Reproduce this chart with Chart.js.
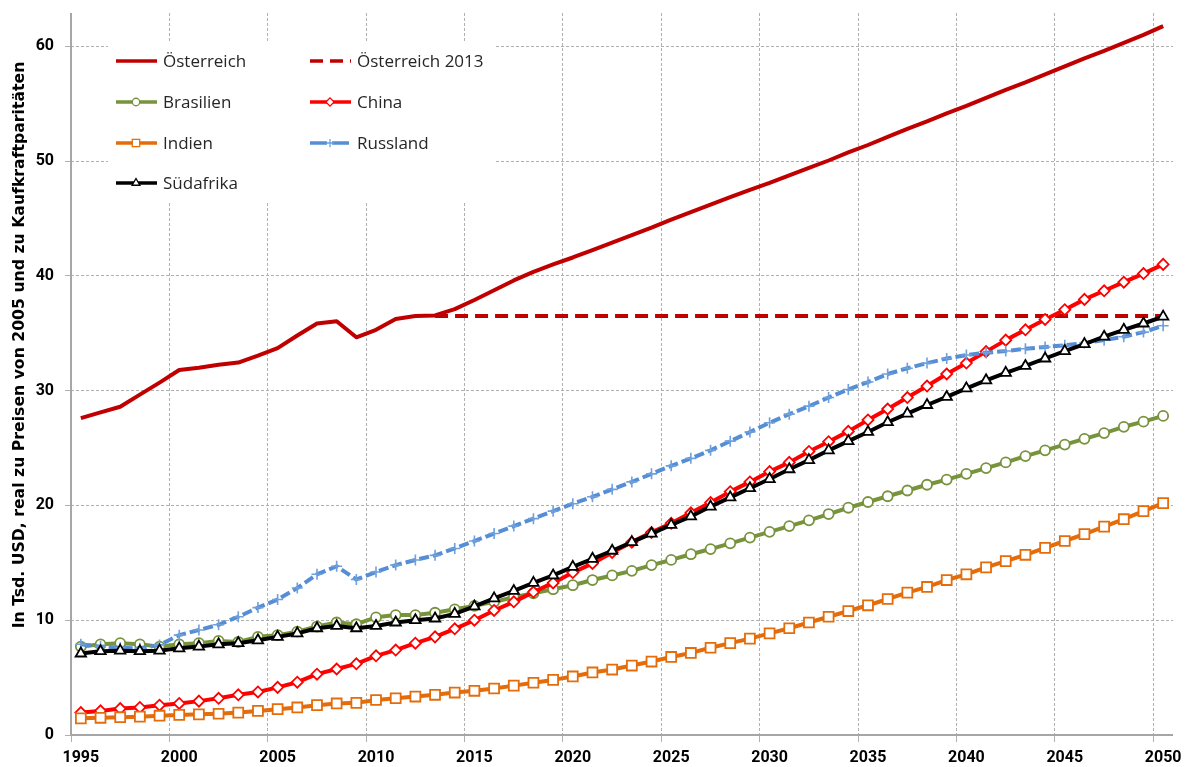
<!DOCTYPE html>
<html>
<head>
<meta charset="utf-8">
<script src="https://cdn.jsdelivr.net/npm/chart.js@4.4.0/dist/chart.umd.min.js"></script>
<style>
  html, body { margin: 0; padding: 0; background: #fff; }
  #wrap { width: 1189px; height: 767px; }
</style>
</head>
<body>
<div id="wrap"><canvas id="bipChart" width="1189" height="767"></canvas></div>
<script>
// Jahre 1995 - 2050
var years = [1995,1996,1997,1998,1999,2000,2001,2002,2003,2004,2005,2006,2007,2008,2009,
  2010,2011,2012,2013,2014,2015,2016,2017,2018,2019,2020,2021,2022,2023,2024,2025,2026,
  2027,2028,2029,2030,2031,2032,2033,2034,2035,2036,2037,2038,2039,2040,2041,2042,2043,
  2044,2045,2046,2047,2048,2049,2050];

var yTicks = [0, 10, 20, 30, 40, 50, 60];

var oesterreich = [27.6,28.1,28.6,29.65,30.7,31.8,32.0,32.25,32.45,33.05,33.7,34.8,35.85,36.05,34.65,
  35.3,36.25,36.5,36.55,37.1,37.9,38.75,39.6,40.35,41.0,41.6,42.25,42.9,43.55,44.2,44.9,45.55,
  46.2,46.85,47.5,48.1,48.75,49.4,50.05,50.75,51.4,52.1,52.8,53.45,54.15,54.8,55.5,56.2,56.85,
  57.55,58.25,58.95,59.6,60.3,61.0,61.75];

var oesterreich2013 = [null,null,null,null,null,null,null,null,null,null,null,null,null,null,null,
  null,null,null,36.5,36.5,36.5,36.5,36.5,36.5,36.5,36.5,36.5,36.5,36.5,36.5,36.5,36.5,
  36.5,36.5,36.5,36.5,36.5,36.5,36.5,36.5,36.5,36.5,36.5,36.5,36.5,36.5,36.5,36.5,36.5,
  36.5,36.5,36.5,36.5,36.5,36.5,36.5];

var brasilien = [7.7,7.9,8.0,7.9,7.7,7.9,8.0,8.2,8.1,8.55,8.7,9.0,9.45,9.8,9.65,
  10.25,10.45,10.45,10.65,10.95,11.25,11.6,12.0,12.35,12.7,13.05,13.5,13.9,14.3,14.8,15.25,15.75,
  16.2,16.7,17.2,17.7,18.2,18.7,19.25,19.8,20.3,20.8,21.3,21.8,22.25,22.75,23.25,23.75,24.3,
  24.8,25.3,25.8,26.3,26.85,27.3,27.8];

var china = [1.95,2.1,2.3,2.4,2.6,2.75,2.95,3.2,3.5,3.75,4.15,4.6,5.3,5.75,6.2,
  6.9,7.4,8.0,8.55,9.25,10.0,10.85,11.6,12.45,13.25,14.15,14.95,15.9,16.8,17.65,18.45,19.35,
  20.25,21.2,22.05,22.95,23.75,24.7,25.55,26.45,27.45,28.4,29.4,30.4,31.45,32.4,33.4,34.4,35.3,
  36.2,37.05,37.95,38.7,39.45,40.2,41.0];

var indien = [1.45,1.5,1.55,1.6,1.68,1.75,1.8,1.85,1.95,2.1,2.25,2.4,2.6,2.75,2.8,
  3.05,3.2,3.35,3.5,3.7,3.85,4.05,4.3,4.55,4.8,5.1,5.45,5.7,6.05,6.4,6.8,7.15,
  7.6,8.0,8.4,8.85,9.3,9.8,10.3,10.8,11.3,11.85,12.4,12.9,13.5,14.0,14.6,15.15,15.7,
  16.3,16.9,17.5,18.15,18.8,19.5,20.2];

var russland = [7.9,7.7,7.6,7.55,7.85,8.7,9.15,9.6,10.3,11.1,11.8,12.8,14.0,14.7,13.55,
  14.2,14.8,15.25,15.65,16.25,16.9,17.55,18.2,18.85,19.5,20.15,20.75,21.4,22.05,22.75,23.45,24.1,
  24.8,25.6,26.4,27.2,27.95,28.65,29.4,30.1,30.75,31.45,31.95,32.4,32.8,33.1,33.3,33.45,33.65,
  33.8,33.95,34.15,34.4,34.7,35.1,35.65];

var suedafrika = [7.1,7.3,7.35,7.3,7.35,7.55,7.7,7.9,8.0,8.25,8.55,8.85,9.3,9.5,9.3,
  9.5,9.8,10.0,10.15,10.55,11.2,11.9,12.55,13.25,13.9,14.65,15.35,16.05,16.8,17.55,18.3,19.05,
  19.9,20.7,21.5,22.3,23.15,23.95,24.8,25.6,26.4,27.25,28.0,28.75,29.45,30.2,30.9,31.55,32.15,
  32.8,33.45,34.05,34.7,35.3,35.85,36.45];

var yTitle = 'In Tsd. USD, real zu Preisen von 2005 und zu Kaufkraftparitäten';

var tickFont = { family: 'Roboto', size: 16, weight: 'bold' };
var gridGray = '#b0b0b0';
var axisGray = '#a6a6a6';

// achsenlinien durchgezogen (gitter ist gestrichelt)
var axisLinePlugin = {
  id: 'axisLines',
  beforeDatasetsDraw: function (chart) {
    var a = chart.chartArea, ctx = chart.ctx;
    ctx.save();
    ctx.strokeStyle = axisGray;
    ctx.lineWidth = 2;
    ctx.setLineDash([]);
    ctx.beginPath();
    ctx.moveTo(a.left, a.top);
    ctx.lineTo(a.left, a.bottom);
    ctx.lineTo(a.right, a.bottom);
    ctx.stroke();
    ctx.restore();
  }
};

// legende im diagramm (weisser kasten oben links)
var legendPlugin = {
  id: 'boxLegend',
  afterDraw: function (chart) {
    var ctx = chart.ctx;
    ctx.save();
    ctx.fillStyle = '#ffffff';
    ctx.fillRect(108, 41, 386, 162);

    var rowsY = [61, 102, 143, 183];
    var colX = [116, 310];
    ctx.font = '17px "Open Sans"';
    ctx.textBaseline = 'middle';
    ctx.textAlign = 'left';

    chart.data.datasets.forEach(function (ds) {
      var pos = ds.legendPos;
      var x0 = colX[pos[0]], y = rowsY[pos[1]];
      ctx.save();
      ctx.strokeStyle = ds.borderColor;
      ctx.lineWidth = 3.5;
      ctx.setLineDash(ds.legendDash || []);
      ctx.beginPath();
      ctx.moveTo(x0, y);
      ctx.lineTo(x0 + 41, y);
      ctx.stroke();
      ctx.setLineDash([]);
      if (ds.pointStyle && ds.pointRadius > 0) {
        ctx.fillStyle = ds.pointBackgroundColor;
        ctx.strokeStyle = ds.pointBorderColor;
        ctx.lineWidth = 1.3;
        Chart.helpers.drawPoint(ctx, {
          pointStyle: ds.pointStyle,
          radius: ds.pointRadius * 0.75,
          rotation: 0,
          borderWidth: 1.3
        }, x0 + 20, y);
      }
      ctx.restore();
      ctx.fillStyle = '#262626';
      ctx.fillText(ds.label, x0 + 47, y + 1);
    });
    ctx.restore();
  }
};

// y-achsentitel gedreht
var yTitlePlugin = {
  id: 'yTitle',
  afterDraw: function (chart) {
    var ctx = chart.ctx;
    ctx.save();
    ctx.translate(20, 345);
    ctx.rotate(-Math.PI / 2);
    ctx.font = 'bold 15.7px "DejaVu Sans"';
    ctx.fillStyle = '#000';
    ctx.textAlign = 'center';
    ctx.textBaseline = 'middle';
    ctx.fillText(yTitle, 0, 0);
    ctx.restore();
  }
};

var ctx = document.getElementById('bipChart').getContext('2d');
var chart = new Chart(ctx, {
  type: 'line',
  data: {
    labels: years,
    datasets: [
      {
        label: 'Österreich', data: oesterreich, legendPos: [0, 0], order: 6,
        borderColor: '#c00000', borderWidth: 4, pointRadius: 0, pointStyle: false
      },
      {
        label: 'Österreich 2013', data: oesterreich2013, legendPos: [1, 0], order: 5,
        borderColor: '#c00000', borderWidth: 4, borderDash: [13, 7], legendDash: [13, 7],
        pointRadius: 0, pointStyle: false
      },
      {
        label: 'Brasilien', data: brasilien, legendPos: [0, 1], order: 4,
        borderColor: '#77933c', borderWidth: 4,
        pointStyle: 'circle', pointRadius: 5, pointBorderWidth: 1.8,
        pointBackgroundColor: '#ffffff', pointBorderColor: '#77933c'
      },
      {
        label: 'China', data: china, legendPos: [1, 1], order: 3,
        borderColor: '#ff0000', borderWidth: 4,
        pointStyle: 'rectRot', pointRadius: 5.5, pointBorderWidth: 1.8,
        pointBackgroundColor: '#ffffff', pointBorderColor: '#ff0000'
      },
      {
        label: 'Indien', data: indien, legendPos: [0, 2], order: 2,
        borderColor: '#e46c0a', borderWidth: 4,
        pointStyle: 'rect', pointRadius: 7, pointBorderWidth: 1.8,
        pointBackgroundColor: '#ffffff', pointBorderColor: '#e46c0a'
      },
      {
        label: 'Russland', data: russland, legendPos: [1, 2], order: 1,
        borderColor: '#558ed5', borderWidth: 4, borderDash: [10, 4], legendDash: [17, 5],
        pointStyle: 'cross', pointRadius: 5.5, pointBorderWidth: 1.6,
        pointBackgroundColor: '#ffffff', pointBorderColor: '#6fa0dc'
      },
      {
        label: 'Südafrika', data: suedafrika, legendPos: [0, 3], order: 0,
        borderColor: '#000000', borderWidth: 4,
        pointStyle: 'triangle', pointRadius: 6, pointBorderWidth: 1.8,
        pointBackgroundColor: '#ffffff', pointBorderColor: '#000000'
      }
    ]
  },
  options: {
    responsive: false,
    animation: false,
    devicePixelRatio: 1,
    spanGaps: false,
    layout: { padding: { left: 0, top: 13, right: 16, bottom: 0 } },
    elements: { line: { tension: 0, borderCapStyle: 'butt', borderJoinStyle: 'round' } },
    plugins: {
      legend: { display: false },
      tooltip: { enabled: false }
    },
    scales: {
      x: {
        type: 'category',
        offset: true,
        grid: {
          offset: true,
          drawTicks: true,
          tickLength: 7,
          lineWidth: 1,
          color: function (c) { return c.index % 5 === 0 ? gridGray : 'rgba(0,0,0,0)'; }
        },
        border: { display: false, dash: [3, 2] },
        ticks: {
          autoSkip: false,
          maxRotation: 0,
          minRotation: 0,
          padding: 6,
          color: '#000',
          font: tickFont,
          callback: function (v, i) { return i % 5 === 0 ? String(years[i]) : ''; }
        },
        afterFit: function (s) {
          s.height = 32;
          s.paddingLeft = 0; s.paddingRight = 0;
        }
      },
      y: {
        min: 0,
        max: 62.9,
        grid: { drawTicks: true, tickLength: 6, lineWidth: 1, color: gridGray },
        border: { display: false, dash: [3, 2] },
        ticks: { stepSize: 10, padding: 11, color: '#000', font: tickFont },
        afterBuildTicks: function (s) {
          s.ticks = yTicks.map(function (v) { return { value: v }; });
        },
        afterFit: function (s) {
          s.width = 71;
          s.paddingTop = 0; s.paddingBottom = 0;
        }
      }
    }
  },
  plugins: [axisLinePlugin, legendPlugin, yTitlePlugin]
});
</script>
</body>
</html>
